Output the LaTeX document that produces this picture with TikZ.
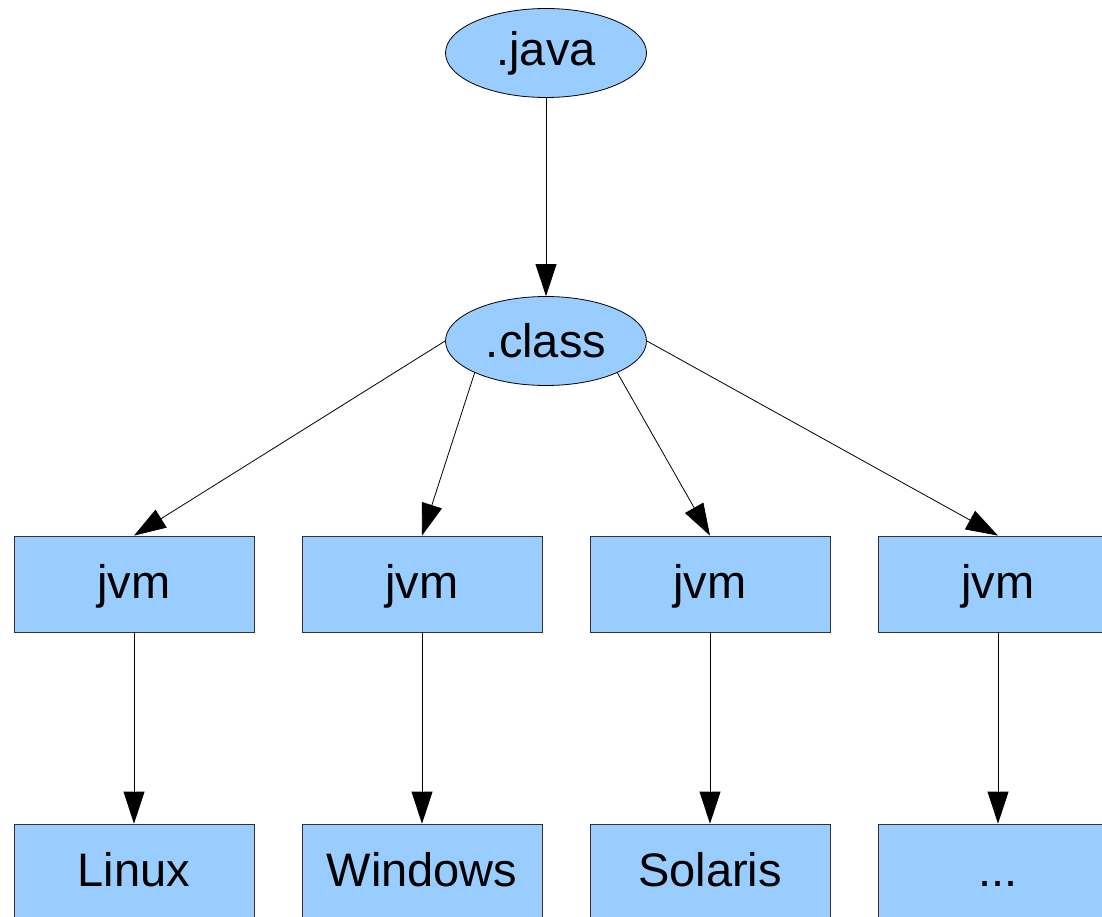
\documentclass[tikz,border=0pt]{standalone}
\usepackage{fontspec}
\setmainfont{Liberation Sans}
\usetikzlibrary{arrows.meta,positioning,shapes.geometric}
\definecolor{jvblue}{RGB}{153,204,255}

\begin{document}
\begin{tikzpicture}[x=1pt, y=-1pt,
  filenode/.style={draw, ellipse, fill=jvblue, line width=0.8pt, inner sep=0pt, minimum width=201pt, minimum height=89pt, font=\fontsize{47}{56}\selectfont},
  boxnode/.style={draw=black!80, fill=jvblue, line width=0.8pt, inner sep=0pt, minimum width=240pt, minimum height=96pt, text height=36pt, text depth=8pt, font=\fontsize{47}{56}\selectfont},
  link/.style={-{Triangle[length=32pt, width=21pt]}, line width=0.8pt}]
\useasboundingbox (0,0) rectangle (1102,917);
% Source and bytecode
\node[filenode] (java) at (546,53) {.java};
\node[filenode] (class) at (546,341) {.class};
% Virtual machines
\node[boxnode] (jvm1) at (134,584) {jvm};
\node[boxnode] (jvm2) at (422,584) {jvm};
\node[boxnode] (jvm3) at (710,584) {jvm};
\node[boxnode] (jvm4) at (998,584) {jvm};
% Platforms
\node[boxnode] (os1) at (134,872) {Linux};
\node[boxnode] (os2) at (422,872) {Windows};
\node[boxnode] (os3) at (710,872) {Solaris};
\node[boxnode] (os4) at (998,872) {...};
% Connections
\draw[link] (java) -- (class);
\draw[link] (class.west) -- (jvm1.north);
\draw[link] (class.south west) -- (jvm2.north);
\draw[link] (class.south east) -- (jvm3.north);
\draw[link] (class.east) -- (jvm4.north);
\foreach \i in {1,2,3,4} {
  \draw[link] (jvm\i) -- (os\i);
}
\end{tikzpicture}
\end{document}
